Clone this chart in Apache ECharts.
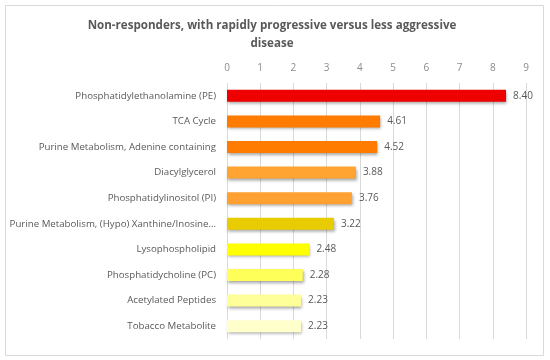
<!DOCTYPE html>
<html>
<head>
<meta charset="utf-8">
<script src="https://cdn.jsdelivr.net/npm/echarts@6/dist/echarts.min.js"></script>
<style>html,body{margin:0;padding:0;background:#fff}#c{width:550px;height:360px}</style>
</head>
<body>
<div id="c"></div>
<script>
const categories = [
  "Phosphatidylethanolamine (PE)",
  "TCA Cycle",
  "Purine Metabolism, Adenine containing",
  "Diacylglycerol",
  "Phosphatidylinositol (PI)",
  "Purine Metabolism, (Hypo) Xanthine/Inosine…",
  "Lysophospholipid",
  "Phosphatidycholine (PC)",
  "Acetylated Peptides",
  "Tobacco Metabolite"
];
const values = [8.40, 4.61, 4.52, 3.88, 3.76, 3.22, 2.48, 2.28, 2.23, 2.23];
const barColors = ["#EE0000", "#FF7C00", "#FF7C00", "#FFA333", "#FFA033", "#E8CC00", "#FFFF00", "#FFFF5A", "#FFFF99", "#FFFFCC"];
const tickValues = [0, 1, 2, 3, 4, 5, 6, 7, 8, 9];
const titleText = "Non-responders, with rapidly progressive versus less aggressive\ndisease";

const FONT = "Open Sans";
const chart = echarts.init(document.getElementById('c'), null, {renderer: 'canvas'});
chart.setOption({
  animation: false,
  backgroundColor: '#fff',
  title: {
    text: titleText,
    left: 267, top: 12, textAlign: 'center',
    textStyle: {fontFamily: FONT, fontSize: 11.6, fontWeight: 'bold', color: '#595959', lineHeight: 18}
  },
  graphic: [{
    type: 'rect', shape: {x: 5.5, y: 5.5, width: 538, height: 350},
    style: {fill: 'none', stroke: '#D9D9D9', lineWidth: 1}, silent: true, z: -1
  }],
  grid: {left: 227, right: 24, top: 83, bottom: 21},
  xAxis: {
    type: 'value', position: 'top', min: tickValues[0], max: tickValues[tickValues.length - 1], interval: 1,
    axisLine: {show: false}, axisTick: {show: false},
    axisLabel: {margin: 10, color: '#8C8C8C', fontFamily: FONT, fontSize: 10},
    splitLine: {lineStyle: {color: '#D9D9D9', width: 1}}
  },
  yAxis: {
    type: 'category', data: categories, inverse: true,
    axisLine: {show: false}, axisTick: {show: false},
    axisLabel: {margin: 11, color: '#595959', fontFamily: FONT, fontSize: 9.7}
  },
  series: [{
    type: 'bar',
    data: values.map((v, i) => ({value: v, itemStyle: {color: barColors[i]}})),
    barWidth: 12,
    itemStyle: {shadowColor: 'rgba(0,0,0,0.35)', shadowBlur: 3, shadowOffsetX: 1, shadowOffsetY: 2},
    label: {
      show: true, position: 'right', distance: 7,
      formatter: p => p.value.toFixed(2),
      color: '#595959', fontFamily: FONT, fontSize: 10
    }
  }]
});
</script>
</body>
</html>
